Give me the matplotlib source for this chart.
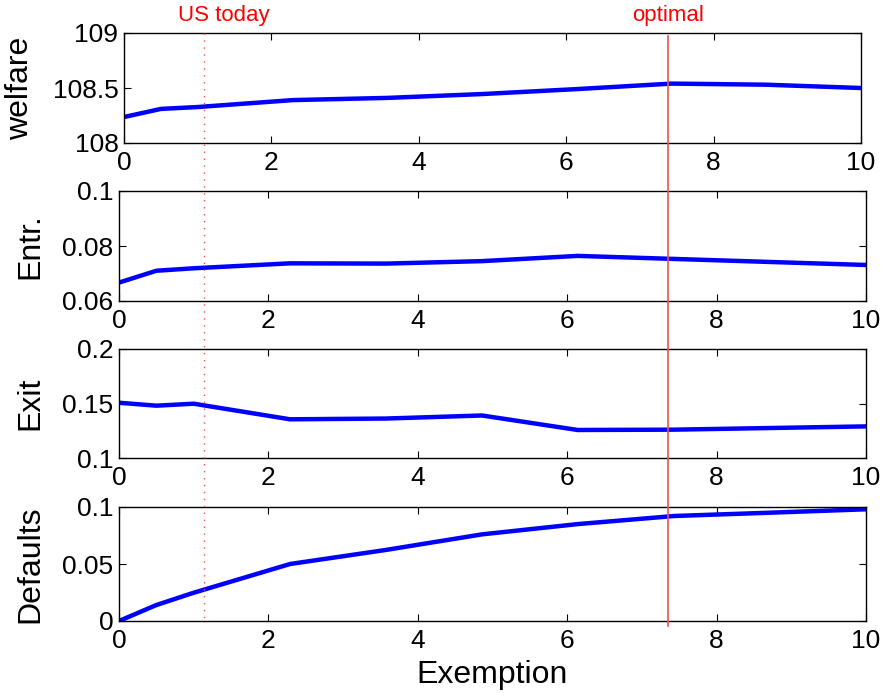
import matplotlib
matplotlib.use("Agg")
import matplotlib.pyplot as plt
from matplotlib.lines import Line2D
from matplotlib.transforms import blended_transform_factory
from matplotlib.ticker import FuncFormatter

plt.rcParams["font.family"] = ["Liberation Sans", "DejaVu Sans"]

# Exemption grid
exemption = [0, 0.5, 1.0, 2.29, 3.57, 4.86, 6.14, 7.43, 8.71, 10]

welfare = [108.236, 108.31, 108.327, 108.39, 108.41, 108.445, 108.49, 108.54, 108.53, 108.50]
entry = [0.0667, 0.0710, 0.0719, 0.0737, 0.0736, 0.0745, 0.0764, 0.0753, 0.0742, 0.0731]
exit_rate = [0.1507, 0.148, 0.1498, 0.1355, 0.1362, 0.139, 0.1257, 0.126, 0.1275, 0.129]
defaults = [0.0, 0.014, 0.0248, 0.050, 0.0623, 0.076, 0.085, 0.0921, 0.095, 0.098]

US_TODAY = 1.14
OPTIMAL = 7.35

panels = [
    ("welfare", welfare, (108, 109), [108, 108.5, 109]),
    ("Entr.", entry, (0.06, 0.1), [0.06, 0.08, 0.1]),
    ("Exit", exit_rate, (0.1, 0.2), [0.1, 0.15, 0.2]),
    ("Defaults", defaults, (0, 0.1), [0, 0.05, 0.1]),
]

W, H = 884, 697
# axes boxes in pixels: left, top, right, bottom
boxes = [
    (124, 33, 861, 143),
    (119, 191, 866, 301),
    (119, 349, 866, 458),
    (119, 507, 866, 621),
]

fig = plt.figure(figsize=(W / 100, H / 100), dpi=100)

axes = []
for (name, vals, ylim, yticks), (l, t, r, b) in zip(panels, boxes):
    ax = fig.add_axes([l / W, 1 - b / H, (r - l) / W, (b - t) / H])
    ax.plot(exemption, vals, color="#0000ff", linewidth=3.2, solid_joinstyle="round")
    ax.set_xlim(0, 10)
    ax.set_ylim(*ylim)
    ax.set_xticks([0, 2, 4, 6, 8, 10])
    ax.set_yticks(yticks)
    ax.yaxis.set_major_formatter(FuncFormatter(lambda v, p: f"{v:g}"))
    ax.tick_params(direction="in", length=5, width=0.8, top=True, right=True,
                   labelsize=19)
    ax.tick_params(axis="x", pad=6)
    ax.tick_params(axis="y", pad=4)
    for s in ax.spines.values():
        s.set_linewidth(1.0)
    ax.set_ylabel(name, fontsize=23)
    trans = blended_transform_factory(fig.transFigure, ax.transAxes)
    ax.yaxis.set_label_coords(35 / W if name == "welfare" else 45 / W, 0.5, transform=trans)
    axes.append(ax)

axes[-1].set_xlabel("Exemption", fontsize=23, labelpad=5)

# vertical reference lines across all panels
ref = axes[-1]
vtrans = blended_transform_factory(ref.transData, fig.transFigure)
fig.add_artist(Line2D([US_TODAY, US_TODAY], [1 - 33 / H, 1 - 621 / H], transform=vtrans,
                      color="#f05050", linestyle=(0, (1, 4)), linewidth=1))
fig.add_artist(Line2D([OPTIMAL, OPTIMAL], [1 - 36 / H, 1 - 626 / H], transform=vtrans,
                      color="#f05050", linestyle="-", linewidth=1.2))
fig.text(224 / W, 1 - 16 / H, "US today", transform=fig.transFigure, color="red",
         fontsize=16, ha="center", va="center")
fig.text(ref.transData.transform((OPTIMAL, 0))[0] / W, 1 - 16 / H, "optimal",
         color="red", fontsize=16, ha="center", va="center")

fig.savefig("out.png", dpi=100)
